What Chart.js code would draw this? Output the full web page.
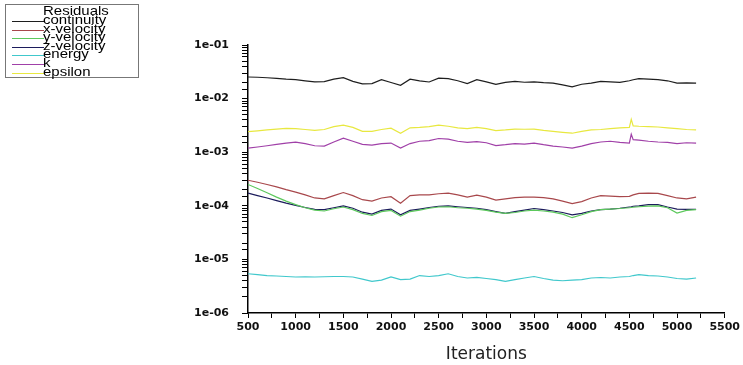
<!DOCTYPE html>
<html>
<head>
<meta charset="utf-8">
<script src="https://cdn.jsdelivr.net/npm/chart.js@4.4.0/dist/chart.umd.min.js"></script>
<style>
  html, body { margin: 0; padding: 0; background: #fff; }
  #wrap { position: relative; width: 743px; height: 365px; }
  #legend {
    position: absolute; left: 5px; top: 4px; width: 132px; height: 72px;
    border: 1px solid #777; background: #fff;
    font-family: "Liberation Sans", Arial, sans-serif; font-size: 15px; line-height: 10px;
    color: #000;
  }
  #legend .title { position: absolute; left: 37px; top: 2px; transform: scale(1, 0.8); transform-origin: 0 0; }
  #legend .row { position: absolute; left: 0; }
  #legend .sw { position: absolute; left: 6px; width: 32px; height: 0; border-top: 1px solid; top: 4px; }
  #legend .lbl { position: absolute; left: 37px; top: -1px; white-space: nowrap; transform: scale(1, 0.8); transform-origin: 0 0; }
</style>
</head>
<body>
<div id="wrap">
  <canvas id="chart" width="743" height="365"></canvas>
  <div id="legend"></div>
</div>
<script>
// Iterazioni (asse x)
const iterations = [500, 600, 700, 800, 900, 1000, 1100, 1200, 1300, 1400, 1500, 1600, 1700, 1800, 1900,
  2000, 2100, 2200, 2300, 2400, 2500, 2600, 2700, 2800, 2900, 3000, 3100, 3200, 3300, 3400, 3500,
  3600, 3700, 3800, 3900, 4000, 4100, 4200, 4300, 4400, 4500, 4520, 4540, 4600, 4700, 4800, 4900,
  5000, 5100, 5200];

// Residui
const continuity = [2.53e-2, 2.5e-2, 2.45e-2, 2.38e-2, 2.3e-2, 2.25e-2, 2.15e-2, 2.06e-2, 2.08e-2, 2.3e-2,
  2.45e-2, 2.1e-2, 1.88e-2, 1.9e-2, 2.25e-2, 2.0e-2, 1.77e-2, 2.3e-2, 2.15e-2, 2.04e-2, 2.4e-2,
  2.35e-2, 2.15e-2, 1.9e-2, 2.25e-2, 2.05e-2, 1.85e-2, 2.0e-2, 2.1e-2, 2.02e-2, 2.05e-2, 1.98e-2,
  1.95e-2, 1.8e-2, 1.65e-2, 1.85e-2, 1.95e-2, 2.1e-2, 2.05e-2, 2.0e-2, 2.15e-2, 2.2e-2, 2.25e-2,
  2.36e-2, 2.3e-2, 2.26e-2, 2.15e-2, 1.95e-2, 1.97e-2, 1.95e-2];
const xVelocity = [3.0e-4, 2.75e-4, 2.5e-4, 2.25e-4, 2.0e-4, 1.8e-4, 1.6e-4, 1.4e-4, 1.35e-4, 1.55e-4,
  1.77e-4, 1.55e-4, 1.3e-4, 1.22e-4, 1.4e-4, 1.48e-4, 1.12e-4, 1.55e-4, 1.6e-4, 1.6e-4, 1.68e-4,
  1.73e-4, 1.6e-4, 1.45e-4, 1.58e-4, 1.45e-4, 1.28e-4, 1.35e-4, 1.42e-4, 1.45e-4, 1.45e-4, 1.42e-4,
  1.35e-4, 1.22e-4, 1.1e-4, 1.2e-4, 1.4e-4, 1.55e-4, 1.52e-4, 1.48e-4, 1.5e-4, 1.55e-4, 1.6e-4,
  1.7e-4, 1.73e-4, 1.7e-4, 1.55e-4, 1.4e-4, 1.35e-4, 1.45e-4];
const yVelocity = [2.5e-4, 2.1e-4, 1.75e-4, 1.45e-4, 1.22e-4, 1.05e-4, 9.2e-5, 8.3e-5, 8.0e-5, 8.8e-5,
  9.5e-5, 8.5e-5, 7.2e-5, 6.6e-5, 7.8e-5, 8.2e-5, 6.4e-5, 7.8e-5, 8.3e-5, 9.0e-5, 9.5e-5,
  9.6e-5, 9.2e-5, 9.0e-5, 8.7e-5, 8.2e-5, 7.6e-5, 7.2e-5, 7.5e-5, 8.0e-5, 8.3e-5, 8.0e-5,
  7.6e-5, 7.0e-5, 6.0e-5, 6.8e-5, 7.8e-5, 8.5e-5, 8.7e-5, 8.9e-5, 9.2e-5, 9.3e-5, 9.4e-5,
  9.6e-5, 9.9e-5, 1.0e-4, 9.2e-5, 7.3e-5, 8.2e-5, 8.5e-5];
const zVelocity = [1.72e-4, 1.55e-4, 1.4e-4, 1.25e-4, 1.12e-4, 1.02e-4, 9.3e-5, 8.6e-5, 8.5e-5, 9.2e-5,
  1.0e-4, 9.0e-5, 7.6e-5, 7.0e-5, 8.2e-5, 8.7e-5, 6.8e-5, 8.2e-5, 8.7e-5, 9.3e-5, 9.8e-5,
  1.0e-4, 9.6e-5, 9.3e-5, 9.0e-5, 8.5e-5, 7.8e-5, 7.2e-5, 7.8e-5, 8.3e-5, 8.9e-5, 8.5e-5,
  8.0e-5, 7.5e-5, 6.8e-5, 7.2e-5, 8.0e-5, 8.5e-5, 8.7e-5, 9.0e-5, 9.5e-5, 9.6e-5, 9.8e-5,
  1.0e-4, 1.05e-4, 1.05e-4, 9.5e-5, 8.7e-5, 8.6e-5, 8.6e-5];
const energy = [5.4e-6, 5.2e-6, 5.0e-6, 4.9e-6, 4.8e-6, 4.7e-6, 4.75e-6, 4.7e-6, 4.75e-6, 4.8e-6,
  4.8e-6, 4.7e-6, 4.3e-6, 3.9e-6, 4.1e-6, 4.7e-6, 4.2e-6, 4.3e-6, 5.0e-6, 4.8e-6, 5.0e-6,
  5.4e-6, 4.8e-6, 4.5e-6, 4.6e-6, 4.4e-6, 4.2e-6, 3.9e-6, 4.2e-6, 4.5e-6, 4.8e-6, 4.4e-6,
  4.1e-6, 4.0e-6, 4.1e-6, 4.2e-6, 4.5e-6, 4.6e-6, 4.5e-6, 4.7e-6, 4.8e-6, 4.9e-6, 5.0e-6,
  5.2e-6, 5.0e-6, 4.9e-6, 4.7e-6, 4.4e-6, 4.3e-6, 4.5e-6];
const kResidual = [1.19e-3, 1.25e-3, 1.32e-3, 1.4e-3, 1.48e-3, 1.54e-3, 1.45e-3, 1.32e-3, 1.3e-3, 1.55e-3,
  1.82e-3, 1.6e-3, 1.4e-3, 1.36e-3, 1.45e-3, 1.48e-3, 1.19e-3, 1.45e-3, 1.6e-3, 1.65e-3, 1.8e-3,
  1.75e-3, 1.6e-3, 1.52e-3, 1.58e-3, 1.5e-3, 1.33e-3, 1.38e-3, 1.45e-3, 1.42e-3, 1.48e-3, 1.38e-3,
  1.3e-3, 1.25e-3, 1.19e-3, 1.3e-3, 1.45e-3, 1.55e-3, 1.6e-3, 1.52e-3, 1.48e-3, 2.17e-3, 1.72e-3,
  1.68e-3, 1.6e-3, 1.55e-3, 1.52e-3, 1.45e-3, 1.5e-3, 1.48e-3];
const epsilon = [2.42e-3, 2.5e-3, 2.6e-3, 2.7e-3, 2.78e-3, 2.75e-3, 2.65e-3, 2.55e-3, 2.65e-3, 3.0e-3,
  3.2e-3, 2.9e-3, 2.45e-3, 2.45e-3, 2.65e-3, 2.8e-3, 2.26e-3, 2.85e-3, 2.9e-3, 3.0e-3, 3.2e-3,
  3.05e-3, 2.85e-3, 2.75e-3, 2.9e-3, 2.75e-3, 2.53e-3, 2.6e-3, 2.7e-3, 2.68e-3, 2.7e-3, 2.55e-3,
  2.45e-3, 2.35e-3, 2.26e-3, 2.45e-3, 2.6e-3, 2.65e-3, 2.75e-3, 2.85e-3, 2.9e-3, 4.1e-3, 3.1e-3,
  3.05e-3, 3.0e-3, 2.95e-3, 2.85e-3, 2.75e-3, 2.65e-3, 2.6e-3];

const seriesNames = ['continuity', 'x-velocity', 'y-velocity', 'z-velocity', 'energy', 'k', 'epsilon'];
const seriesData = [continuity, xVelocity, yVelocity, zVelocity, energy, kResidual, epsilon];
const seriesColors = ['#1e1e1e', '#a8484c', '#5cc85c', '#1c1c5c', '#40c8cc', '#a040a8', '#e8e840'];

const xTicks = [500, 1000, 1500, 2000, 2500, 3000, 3500, 4000, 4500, 5000, 5500];
const yTickLabels = ['1e-06', '1e-05', '1e-04', '1e-03', '1e-02', '1e-01'];

const tickFont = { family: '"DejaVu Sans", sans-serif', size: 11, weight: 'bold' };

const datasets = seriesNames.map((name, i) => ({
    label: name,
    data: iterations.map((it, j) => ({ x: it, y: seriesData[i][j] })),
    borderColor: seriesColors[i],
    borderWidth: 1.2,
    pointRadius: 0,
    tension: 0,
    fill: false
}));

// Legenda HTML
const legendEl = document.getElementById('legend');
legendEl.innerHTML = '<div class="title">Residuals</div>' + seriesNames.map((name, i) =>
    `<div class="row" style="top:${12 + i * 8.6}px">
       <div class="sw" style="border-color:${seriesColors[i]}"></div>
       <div class="lbl">${name}</div>
     </div>`).join('');

new Chart(document.getElementById('chart').getContext('2d'), {
    type: 'line',
    data: { datasets },
    options: {
        responsive: false,
        animation: false,
        layout: { padding: { left: 0, top: 45, right: 16, bottom: 0 } },
        plugins: { legend: { display: false }, tooltip: { enabled: false } },
        scales: {
            x: {
                type: 'linear',
                min: 500,
                max: 5500,
                afterBuildTicks: (s) => {
                    const t = [];
                    for (let v = 500; v <= 5500; v += 250) t.push({ value: v });
                    s.ticks = t;
                },
                afterFit: (s) => { s.height = 52; },
                ticks: {
                    color: '#111',
                    font: tickFont,
                    maxRotation: 0,
                    autoSkip: false,
                    padding: 3,
                    callback: (v) => xTicks.includes(v) ? String(v) : ''
                },
                grid: { drawOnChartArea: false, color: '#000', tickLength: 5 },
                border: { color: '#000', width: 1.5 },
                title: {
                    display: true,
                    text: 'Iterations',
                    color: '#222',
                    font: { family: '"DejaVu Sans", sans-serif', size: 17 },
                    padding: { top: 0, bottom: 0 }
                }
            },
            y: {
                type: 'logarithmic',
                min: 1e-6,
                max: 1e-1,
                afterFit: (s) => { s.width = 248; },
                ticks: {
                    color: '#111',
                    font: tickFont,
                    autoSkip: false,
                    padding: 13,
                    callback: (v) => {
                        const e = Math.log10(v);
                        if (Math.abs(e - Math.round(e)) > 1e-9) return '';
                        return yTickLabels[Math.round(e) + 6];
                    }
                },
                grid: { drawOnChartArea: false, color: '#000', tickLength: 6 },
                border: { color: '#000', width: 1.5 }
            }
        }
    }
});
</script>
</body>
</html>
